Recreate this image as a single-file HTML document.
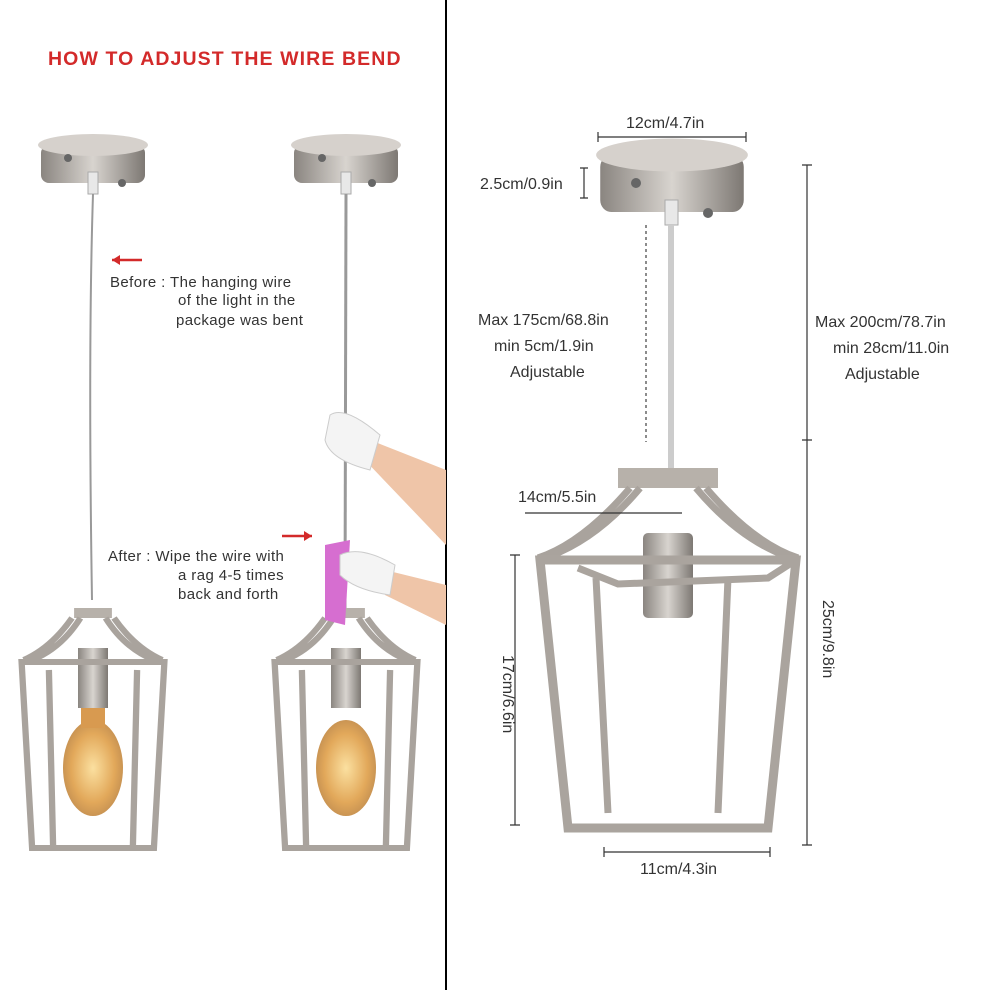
<!DOCTYPE html>
<html><head><meta charset="utf-8"><style>
html,body{margin:0;padding:0;background:#fff;}
svg{display:block}
text{font-family:"Liberation Sans",sans-serif;}
</style></head><body>
<svg width="986" height="990" viewBox="0 0 986 990" xmlns="http://www.w3.org/2000/svg">
<defs>
<linearGradient id="m" x1="0" x2="1"><stop offset="0" stop-color="#8a8580"/><stop offset=".5" stop-color="#d8d4cf"/><stop offset="1" stop-color="#7d7873"/></linearGradient>
<radialGradient id="b" cx=".5" cy=".5" r=".6"><stop offset="0" stop-color="#fbe0a0"/><stop offset=".6" stop-color="#e2a85a"/><stop offset="1" stop-color="#b8864e"/></radialGradient>
<g id="lamp">
<rect x="-52" y="0" width="104" height="38" rx="8" fill="url(#m)"/>
<ellipse cx="0" cy="0" rx="55" ry="11" fill="#d6d1cc"/>
</g>
<g id="cage" fill="none" stroke="#a9a39d" stroke-width="6">
<rect x="-18" y="0" width="36" height="10" fill="#b7b1aa" stroke="none"/>
<path d="M-12 10 Q-30 40 -58 52 M12 10 Q30 40 58 52 M-20 10 Q-40 40 -66 52 M20 10 Q40 40 66 52"/>
<path d="M-68 54 L68 54 L58 240 L-58 240 Z"/>
<path d="M-42 62 L-38 238 M42 62 L38 238"/>
</g>
</defs>
<line x1="446" y1="0" x2="446" y2="990" stroke="#000" stroke-width="2"/>
<text x="48" y="65" font-size="19.5" fill="#d32a2a" letter-spacing="1.1" font-weight="bold">HOW TO ADJUST THE WIRE BEND</text>

<use href="#lamp" x="93" y="145"/>
<circle cx="68" cy="158" r="4" fill="#666"/><circle cx="122" cy="183" r="4" fill="#666"/>
<rect x="88" y="172" width="10" height="22" fill="#e8e8e8" stroke="#aaa"/>
<path d="M93 194 Q88 350 92 600" stroke="#999" stroke-width="2" fill="none"/>
<g transform="translate(93,608)">
<rect x="-15" y="40" width="30" height="60" fill="url(#m)"/>
<ellipse cx="0" cy="160" rx="30" ry="48" fill="url(#b)"/>
<rect x="-12" y="100" width="24" height="20" fill="#d89a50"/>
<use href="#cage" transform="scale(1.05,1)"/>
</g>
<use href="#lamp" x="346" y="145"/>
<circle cx="322" cy="158" r="4" fill="#666"/><circle cx="372" cy="183" r="4" fill="#666"/>
<rect x="341" y="172" width="10" height="22" fill="#e8e8e8" stroke="#aaa"/>
<line x1="346" y1="194" x2="345" y2="610" stroke="#999" stroke-width="3"/>
<g transform="translate(346,608)">
<rect x="-15" y="40" width="30" height="60" fill="url(#m)"/>
<ellipse cx="0" cy="160" rx="30" ry="48" fill="url(#b)"/>
<use href="#cage" transform="scale(1.05,1)"/>
</g>
<path d="M370 440 L446 470 L446 545 L360 455 Z" fill="#efc5a8"/>
<path d="M330 415 Q345 405 380 435 L370 470 Q330 460 325 440 Z" fill="#f4f4f4" stroke="#ccc"/>
<path d="M385 570 L446 585 L446 625 L385 595 Z" fill="#efc5a8"/>
<path d="M325 545 L350 540 L345 625 L325 620 Z" fill="#d66ed0"/>
<path d="M340 555 Q360 545 395 565 L390 595 Q355 590 340 575 Z" fill="#f4f4f4" stroke="#ccc"/>

<g font-size="15" fill="#333" letter-spacing="0.4">
<path d="M112 260 L142 260" stroke="#d32a2a" stroke-width="2.5"/><path d="M112 260 L120 255 L120 265 Z" fill="#d32a2a"/>
<text x="110" y="287">Before : The hanging wire</text>
<text x="178" y="305">of the light in the</text>
<text x="176" y="325">package was bent</text>
<path d="M282 536 L312 536" stroke="#d32a2a" stroke-width="2.5"/><path d="M312 536 L304 531 L304 541 Z" fill="#d32a2a"/>
<text x="108" y="561">After : Wipe the wire with</text>
<text x="178" y="580">a rag 4-5 times</text>
<text x="178" y="599">back and forth</text>
</g>

<g transform="translate(672,155) scale(1.38,1.5)"><use href="#lamp"/></g>
<circle cx="636" cy="183" r="5" fill="#666"/><circle cx="708" cy="213" r="5" fill="#666"/>
<rect x="665" y="200" width="13" height="25" fill="#e8e8e8" stroke="#aaa"/>
<line x1="671" y1="225" x2="671" y2="470" stroke="#ccc" stroke-width="6"/>
<line x1="646" y1="225" x2="646" y2="442" stroke="#666" stroke-width="1.5" stroke-dasharray="3,3"/>
<g transform="translate(668,468)">
<rect x="-50" y="0" width="100" height="20" fill="#b7b1aa"/>
<path d="M-28 20 Q-70 70 -118 88 M28 20 Q70 70 118 88 M-38 20 Q-85 75 -130 90 M38 20 Q85 75 130 90" stroke="#a9a39d" stroke-width="7" fill="none"/>
<rect x="-25" y="65" width="50" height="85" rx="5" fill="url(#m)"/>
<path d="M-128 92 L128 92 L100 360 L-100 360 Z" fill="none" stroke="#aaa49e" stroke-width="9"/>
<path d="M-90 100 L-50 116 L100 110 L128 92" stroke="#aaa49e" stroke-width="7" fill="none"/>
<path d="M-72 110 L-60 345 M60 110 L50 345" stroke="#aaa49e" stroke-width="7" fill="none"/>
</g>
<g stroke="#333" stroke-width="1.2" fill="none">
<path d="M598 137 L746 137 M598 132 L598 142 M746 132 L746 142"/>
<path d="M584 168 L584 198 M580 168 L588 168 M580 198 L588 198"/>
<path d="M807 165 L807 845 M802 165 L812 165 M802 440 L812 440 M802 845 L812 845"/>
<path d="M525 513 L682 513"/>
<path d="M515 555 L515 825 M510 555 L520 555 M510 825 L520 825"/>
<path d="M604 852 L770 852 M604 847 L604 857 M770 847 L770 857"/>
</g>
<g font-size="16" fill="#333">
<text x="626" y="128">12cm/4.7in</text>
<text x="480" y="189">2.5cm/0.9in</text>
<text x="478" y="325">Max 175cm/68.8in</text>
<text x="494" y="351">min 5cm/1.9in</text>
<text x="510" y="377">Adjustable</text>
<text x="815" y="327">Max 200cm/78.7in</text>
<text x="833" y="353">min 28cm/11.0in</text>
<text x="845" y="379">Adjustable</text>
<text x="518" y="502">14cm/5.5in</text>
<text x="640" y="874">11cm/4.3in</text>
<text transform="translate(823,600) rotate(90)">25cm/9.8in</text>
<text transform="translate(503,655) rotate(90)">17cm/6.6in</text>
</g>
</svg>
</body></html>
